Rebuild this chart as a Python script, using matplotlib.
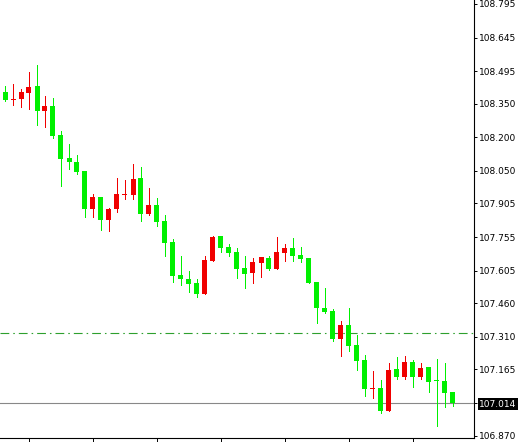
import matplotlib
matplotlib.use('Agg')
import matplotlib.pyplot as plt
import numpy as np

# OHLC (green = falling candle, red = rising candle)
opens = [108.402, 108.367, 108.371, 108.398, 108.429, 108.318, 108.340, 108.211, 108.108, 108.090,
         108.050, 107.880, 107.934, 107.831, 107.880, 107.943, 107.943, 108.019, 107.858, 107.898,
         107.827, 107.733, 107.586, 107.568, 107.550, 107.501, 107.648, 107.760, 107.711, 107.689,
         107.617, 107.595, 107.640, 107.662, 107.613, 107.684, 107.706, 107.675, 107.662, 107.555,
         107.439, 107.425, 107.301, 107.363, 107.274, 107.207, 107.077, 107.082, 106.979, 107.167,
         107.131, 107.198, 107.131, 107.176, 107.113, 107.113, 107.064]
highs = [108.429, 108.438, 108.416, 108.492, 108.523, 108.385, 108.376, 108.228, 108.170, 108.121,
         108.050, 107.947, 107.934, 107.885, 108.019, 108.010, 108.081, 108.068, 107.974, 107.930,
         107.854, 107.747, 107.671, 107.604, 107.568, 107.671, 107.760, 107.760, 107.724, 107.706,
         107.671, 107.662, 107.666, 107.671, 107.756, 107.724, 107.751, 107.711, 107.662, 107.555,
         107.528, 107.434, 107.381, 107.439, 107.318, 107.229, 107.158, 107.118, 107.194, 107.220,
         107.225, 107.207, 107.194, 107.176, 107.211, 107.194, 107.064]
lows = [108.362, 108.344, 108.335, 108.327, 108.255, 108.246, 108.197, 107.983, 108.059, 108.037,
        107.845, 107.845, 107.787, 107.782, 107.867, 107.925, 107.925, 107.827, 107.854, 107.805,
        107.671, 107.555, 107.541, 107.510, 107.488, 107.501, 107.648, 107.689, 107.671, 107.573,
        107.528, 107.550, 107.577, 107.608, 107.613, 107.648, 107.648, 107.644, 107.550, 107.372,
        107.417, 107.292, 107.225, 107.247, 107.162, 107.046, 107.037, 106.970, 106.979, 107.122,
        107.122, 107.086, 107.122, 107.064, 106.912, 106.997, 107.002]
closes = [108.367, 108.368, 108.402, 108.425, 108.318, 108.340, 108.206, 108.103, 108.090, 108.045,
          107.880, 107.934, 107.831, 107.880, 107.947, 107.947, 108.014, 107.858, 107.898, 107.822,
          107.729, 107.582, 107.568, 107.546, 107.501, 107.653, 107.756, 107.706, 107.684, 107.613,
          107.591, 107.644, 107.666, 107.613, 107.689, 107.706, 107.671, 107.657, 107.550, 107.439,
          107.421, 107.301, 107.363, 107.269, 107.202, 107.077, 107.080, 106.979, 107.162, 107.131,
          107.198, 107.131, 107.171, 107.109, 107.113, 107.060, 107.015]

y_ticks = [108.795, 108.645, 108.495, 108.350, 108.200, 108.050, 107.905, 107.755,
           107.605, 107.460, 107.310, 107.165, 107.014, 106.870]
x_ticks = [3, 11, 19, 27, 35, 43, 51]
level_line = 107.329
bid_price = 107.014

GREEN = '#00f000'
RED = '#f00000'

fig = plt.figure(figsize=(5.21, 4.42), dpi=100)
ax = fig.add_axes([0, 4 / 442, 474 / 521, 438 / 442])

o = np.array(opens)
h = np.array(highs)
l = np.array(lows)
c = np.array(closes)
x = np.arange(len(o))
cols = [RED if cc > oo else GREEN for oo, cc in zip(o, c)]

ax.vlines(x, l, h, colors=cols, linewidth=0.72, zorder=2, antialiased=False)
body_h = np.maximum(np.abs(c - o), 0.0045)
ax.bar(x, body_h, bottom=np.minimum(o, c), width=0.625, color=cols,
       linewidth=0, zorder=3, antialiased=False)

ax.axhline(level_line, color='#2ea02e', linewidth=0.8,
           dashes=(7.9, 3.6, 1.4, 3.6), zorder=1)
ax.axhline(bid_price, color='#888888', linewidth=0.8, zorder=1)

ax.set_xlim(-0.625, 58.625)
ax.set_ylim(106.8589, 108.8128)

for s in ['left', 'top']:
    ax.spines[s].set_visible(False)
for s in ['right', 'bottom']:
    ax.spines[s].set_color('black')
    ax.spines[s].set_linewidth(0.8)

ax.yaxis.tick_right()
ax.set_yticks(y_ticks)
ax.set_yticklabels([f'{v:.3f}' for v in y_ticks], fontsize=6.5,
                   family='DejaVu Sans')
ax.tick_params(axis='y', direction='out', length=2.5, width=0.7, pad=1.2,
               colors='black')
ax.set_xticks(x_ticks)
ax.set_xticklabels([])
ax.tick_params(axis='x', direction='out', length=3, width=0.7)

for lab, v in zip(ax.get_yticklabels(), y_ticks):
    if abs(v - bid_price) < 1e-6:
        lab.set_color('white')
        lab.set_bbox(dict(facecolor='black', edgecolor='none', pad=1.2))

fig.savefig('out.png', dpi=100, facecolor='white')
